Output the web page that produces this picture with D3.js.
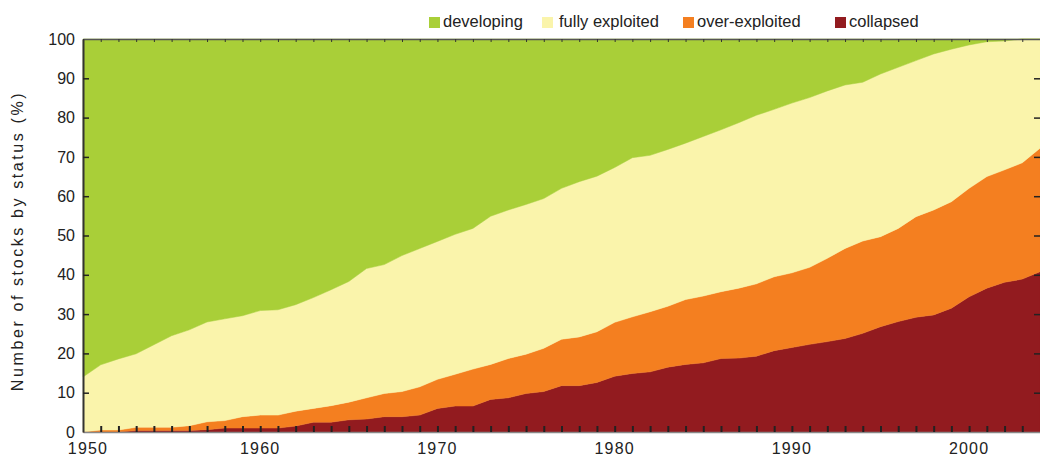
<!DOCTYPE html>
<html>
<head>
<meta charset="utf-8">
<script src="https://cdn.jsdelivr.net/npm/d3@7"></script>
<style>
  body { margin: 0; background: #fff; }
  svg text { font-family: "Liberation Sans", Arial, Helvetica, sans-serif; fill: #222; }
</style>
</head>
<body>
<svg width="1040" height="460"></svg>
<script>
/* Stock status stacked area */

// years on the x axis
var years = d3.range(1950, 2005);

// percent of stocks in each status, per year
var collapsed = [0, 0, 0, 0.4, 0.4, 0.4, 0.4, 0.6, 1.0, 1.0,
  1.0, 1.0, 1.5, 2.5, 2.5, 3.1, 3.3, 3.9, 3.9, 4.3,
  6.0, 6.6, 6.6, 8.3, 8.7, 9.8, 10.3, 11.8, 11.8, 12.6,
  14.2, 14.9, 15.3, 16.5, 17.2, 17.6, 18.7, 18.8, 19.3, 20.7,
  21.5, 22.3, 23.0, 23.8, 25.1, 26.8, 28.1, 29.2, 29.8, 31.5,
  34.4, 36.6, 38.1, 38.9, 40.8];
var overExploited = [0, 0.5, 0.5, 0.8, 0.8, 0.8, 1.2, 2.0, 1.9, 2.9,
  3.3, 3.3, 3.8, 3.5, 4.2, 4.5, 5.4, 5.9, 6.4, 7.2,
  7.4, 8.1, 9.4, 8.9, 10.0, 10.0, 11.0, 11.8, 12.4, 12.9,
  13.7, 14.4, 15.3, 15.5, 16.5, 17.0, 17.0, 17.8, 18.4, 18.8,
  19.0, 19.6, 21.2, 22.9, 23.5, 22.9, 23.7, 25.6, 26.7, 27.1,
  27.6, 28.4, 28.6, 29.6, 31.4];
var fullyExploited = [14.0, 16.6, 18.1, 18.7, 21.0, 23.3, 24.4, 25.4, 25.9, 25.7,
  26.6, 26.8, 27.1, 28.2, 29.5, 30.7, 32.9, 32.8, 34.6, 35.2,
  35.1, 35.6, 35.8, 37.7, 37.8, 38.1, 38.1, 38.4, 39.5, 39.6,
  39.4, 40.5, 39.8, 39.9, 39.8, 40.6, 41.2, 42.1, 42.9, 42.6,
  43.2, 43.2, 42.6, 41.6, 40.4, 41.4, 41.0, 39.7, 39.7, 38.8,
  36.5, 34.3, 32.8, 31.5, 27.8];
var developing = [86.0, 82.9, 81.4, 80.1, 77.8, 75.5, 74.0, 72.0, 71.2, 70.4,
  69.1, 68.9, 67.6, 65.8, 63.8, 61.7, 58.4, 57.4, 55.1, 53.3,
  51.5, 49.7, 48.2, 45.1, 43.5, 42.1, 40.6, 38.0, 36.3, 34.9,
  32.7, 30.2, 29.6, 28.1, 26.5, 24.8, 23.1, 21.3, 19.4, 17.9,
  16.3, 14.9, 13.2, 11.7, 11.0, 8.9, 7.2, 5.5, 3.8, 2.6,
  1.5, 0.7, 0.5, 0, 0];

// stacking order, bottom to top
var keys = ["collapsed", "over-exploited", "fully exploited", "developing"];
var colors = ["#921b1f", "#f47f20", "#faf4ab", "#a9cf38"];

// legend order and tick labels
var legendKeys = ["developing", "fully exploited", "over-exploited", "collapsed"];
var xLabels = [1950, 1960, 1970, 1980, 1990, 2000];
var yTicks = d3.range(0, 101, 10);

var svg = d3.select("svg");
var plotLeft = 83, plotRight = 1040, plotTop = 39, plotBottom = 432;

var x = d3.scaleLinear().domain([1950, 2004]).range([plotLeft, plotRight]);
var y = d3.scaleLinear().domain([0, 100]).range([plotBottom, plotTop]);
var color = d3.scaleOrdinal().domain(keys).range(colors);

var rows = years.map(function(yr, i) {
  return {
    year: yr,
    "collapsed": collapsed[i],
    "over-exploited": overExploited[i],
    "fully exploited": fullyExploited[i],
    "developing": developing[i]
  };
});

var series = d3.stack().keys(keys)(rows);

var area = d3.area()
    .x(function(d) { return x(d.data.year); })
    .y0(function(d) { return y(d[0]); })
    .y1(function(d) { return y(Math.min(100, d[1])); });

svg.append("g").selectAll("path")
    .data(series)
    .enter().append("path")
    .attr("fill", function(d) { return color(d.key); })
    .attr("stroke", function(d) { return color(d.key); })
    .attr("stroke-width", 0.5)
    .attr("d", area);

// top frame line with small year ticks
var topAxis = svg.append("g")
    .attr("transform", "translate(0," + plotTop + ")")
    .call(d3.axisTop(x).tickValues(years).tickSizeInner(-3).tickSizeOuter(0).tickFormat(""));
topAxis.select(".domain").attr("stroke", "#555").attr("stroke-width", 1.5);
topAxis.selectAll(".tick line").attr("stroke", "#333").attr("stroke-width", 1);

// bottom year ticks, pointing inward
var botAxis = svg.append("g")
    .attr("transform", "translate(0," + plotBottom + ")")
    .call(d3.axisBottom(x).tickValues(years.slice(1, -1)).tickSizeInner(-6).tickSizeOuter(0).tickFormat(""));
botAxis.select(".domain").attr("stroke", "#888").attr("stroke-width", 1.5);
botAxis.selectAll(".tick line").attr("stroke", "#222").attr("stroke-width", 2);

// decade labels
svg.append("g").selectAll("text")
    .data(xLabels)
    .enter().append("text")
    .attr("x", function(d) { return x(d) + (d === 1950 ? 5 : 0); })
    .attr("y", 454)
    .attr("text-anchor", "middle")
    .style("font-size", "16px")
    .style("letter-spacing", "1.2px")
    .text(function(d) { return d; });

// left axis
var leftAxis = svg.append("g")
    .attr("transform", "translate(" + plotLeft + ",0)")
    .call(d3.axisLeft(y).tickValues(yTicks).tickSizeInner(-6).tickSizeOuter(0).tickPadding(8));
leftAxis.select(".domain").attr("stroke", "#333").attr("stroke-width", 2);
leftAxis.selectAll(".tick line").attr("stroke", "#222").attr("stroke-width", 1.5);
leftAxis.selectAll(".tick text")
    .style("font-size", "16px")
    .attr("fill", "#222");
leftAxis.selectAll(".tick").filter(function(d) { return d === 0 || d === 100; })
    .select("line").remove();

// right ticks
var rightAxis = svg.append("g")
    .attr("transform", "translate(" + plotRight + ",0)")
    .call(d3.axisRight(y).tickValues(yTicks.slice(1, -1)).tickSizeInner(-6).tickSizeOuter(0).tickFormat(""));
rightAxis.select(".domain").remove();
rightAxis.selectAll(".tick line").attr("stroke", "#222").attr("stroke-width", 1.5);

// y axis title
svg.append("text")
    .attr("transform", "translate(23,241) rotate(-90)")
    .attr("text-anchor", "middle")
    .style("font-size", "16px")
    .style("letter-spacing", "2.6px")
    .attr("fill", "#333")
    .text("Number of stocks by status (%)");

// legend
var legendX = [429, 542, 683, 835];
var legend = svg.append("g").selectAll("g")
    .data(legendKeys)
    .enter().append("g")
    .attr("transform", function(d, i) { return "translate(" + legendX[i] + ",17)"; });
legend.append("rect")
    .attr("width", 11).attr("height", 11)
    .attr("fill", function(d) { return color(d); });
legend.append("text")
    .attr("x", function(d) { return d === "fully exploited" ? 17 : 14; })
    .attr("y", 10)
    .style("font-size", "16.5px")
    .attr("fill", "#333")
    .text(function(d) { return d; });
</script>
</body>
</html>
